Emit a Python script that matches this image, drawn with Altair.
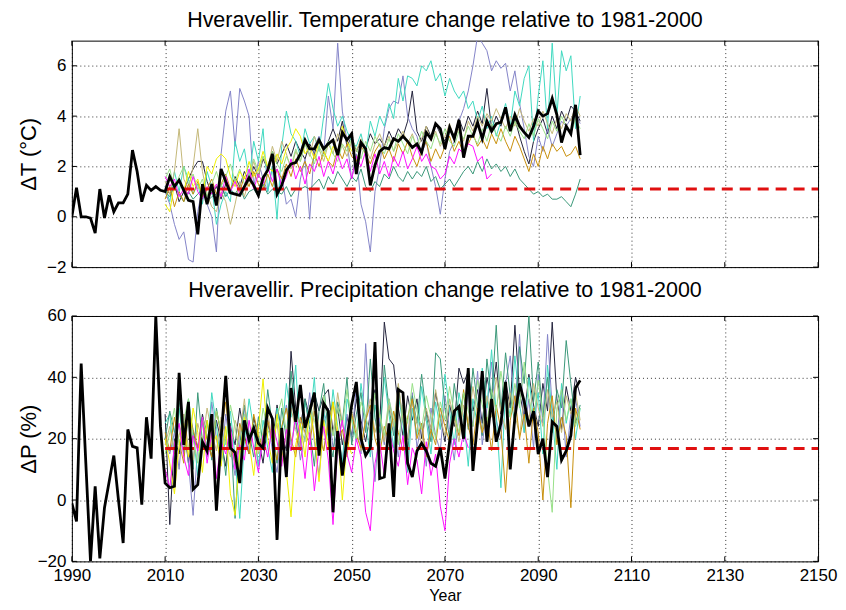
import altair as alt
import pandas as pd

FONT = "Liberation Sans"

# ---------------- data ----------------
obs_start = 1990
model_start = 2010

temp_obs = [
    0.0, 1.15, 0.0, 0.0, -0.05, -0.65, 1.1, -0.05, 0.85, 0.2,
    0.55, 0.55, 0.9, 2.65, 1.8, 0.6, 1.25, 1.05, 1.2, 1.05,
    1.0, 1.6, 1.2, 1.45, 1.05, 0.65, 0.6, -0.7, 1.3, 0.5,
    1.3, 0.45, 1.9, 1.4, 0.95, 0.9, 0.85, 1.2, 1.55, 1.25,
    0.85, 1.55, 1.85, 2.5, 0.9, 1.25, 1.85, 2.1, 2.15, 2.5,
    3.05, 2.7, 2.7, 3.05, 2.7, 2.9, 3.05, 2.45, 3.35, 3.05,
    3.3, 1.7, 2.95, 2.7, 1.25, 2.05, 2.6, 2.75, 2.7, 3.1,
    3.0, 3.2, 3.0, 2.75, 2.9, 2.55, 3.35, 3.1, 3.7, 3.5,
    2.7, 3.55, 3.1, 3.85, 2.35, 3.2, 3.2, 3.75, 3.1, 3.8,
    3.4, 3.7, 3.75, 4.35, 3.4, 4.05, 3.6, 3.35, 3.15, 3.6,
    4.2, 4.0, 4.1, 4.7, 4.05, 2.95, 3.6, 3.3, 4.45, 2.45,
]

prec_obs = [
    -1, -7, 44.5, 12, -20, 4.5, -19, -2.5, 6, 14.5,
    0, -14, 23, 17.5, 17, -1.5, 27, 13.5, 60, 24,
    5.5, 4, 4.5, 41.5, 18, 32, 3.5, 5, 19, 16,
    28, -3.5, 20, 40.5, 17, 15.5, 5.5, 26, 19.5, 23.5,
    18.5, 17, 30, 26.5, -13, 23.5, 7.5, 36.5, 25.5, 37.5,
    23.5, 29, 35, 14.5, 31.5, 29, -4, 22.5, 8, 20,
    31, 38.5, 20, 14.5, 17, 51.5, 7, 7.5, 25, 1,
    36, 35, 12, 7.5, 16, 18.5, 16, 12, 11, 17,
    7, 19, 29, 30.5, 20, 43, 9.5, 25.5, 42, 19,
    33, 19, 25, 38.5, 10, 27, 38, 32, 24, 29,
    15, 20, 7.5, 25.5, 24, 13, 16, 21, 36.5, 39,
]

series_names = ["m01", "m02", "m03", "m04", "m05", "m06", "m07", "m08", "m09"]
series_colors = ["#23233c", "#8484c8", "#3fd9c0", "#3a9878", "#c4b878",
                 "#c8900c", "#98e088", "#f0f000", "#ff10ff"]

temp_models = {
    "m01": [1.2, 0.9, 1.3, 0.6, 1.0, 1.5, 1.9, 2.2, 2.2, 1.4,
            0.9, 1.2, 0.7, 1.3, 1.0, 1.6, 1.2, 1.8, 1.4, 2.0,
            1.6, 2.3, 1.9, 2.6, 2.1, 2.5, 2.9, 2.4, 3.0, 2.6,
            2.3, 2.9, 2.5, 3.1, 2.7, 3.0, 3.5, 3.0, 3.8, 2.8,
            3.2, 2.6, 3.0, 2.7, 3.3, 2.9, 3.1, 2.8, 3.4, 3.0,
            3.5, 3.2, 3.8, 5.0, 3.4, 3.0, 3.6, 3.2, 3.7, 3.3,
            3.0, 3.6, 3.2, 3.9, 3.4, 4.0, 3.6, 4.2, 3.7, 5.1,
            3.5, 4.0, 3.6, 4.3, 3.5, 3.9, 3.2, 2.6, 2.1, 3.0,
            3.5, 3.9, 3.3, 4.0, 3.5, 4.2, 3.8, 4.4, 4.2, 3.8],
    "m02": [1.0, 0.5, -0.3, -0.9, -0.6, -1.7, -1.8, 0.2, 1.2, 0.5,
            0.0, -1.4, 2.5, 4.2, 5.0, 2.8, 5.1, 4.6, 4.0, 1.2,
            2.2, 1.5, 1.0, 2.0, 0.8, 1.6, 0.5, 0.7, 0.0, 1.5,
            2.3, -0.1, 2.8, 3.2, 2.5, 4.8, 3.5, 6.9, 4.2, 3.0,
            1.5, 2.5, 0.5, -0.2, -1.4, 1.0, 2.0, 3.5, 4.3, 4.6,
            4.5, 5.6, 4.0, 3.5, 3.2, 2.5, 3.0, 2.0, 1.2, 0.1,
            1.5, 2.6, 3.0, 3.8, 4.3, 5.0, 6.0, 7.2, 6.9, 6.6,
            5.8, 6.2, 5.9, 6.1, 5.0, 5.8, 4.5, 3.5, 2.4, 2.0,
            3.2, 2.6, 3.5, 2.8, 3.3, 3.8, 3.6, 3.9, 4.1, 3.7],
    "m03": [1.2, 0.6, 1.8, 1.0, 2.0, 1.5, 0.9, 1.3, 0.5, 1.8,
            1.2, -0.3, 0.5, 1.0, 0.6, 3.0, 2.2, 2.7, 1.5, 3.0,
            2.2, 3.5, 1.0, 2.0, -0.1, 2.8, 4.2, 3.3, 3.0, 2.4,
            3.5, 2.9, 3.2, 2.6, 4.0, 5.3, 4.3, 3.6, 4.0, 3.4,
            3.0, 2.8, 3.3, 2.5, 3.8, 3.2, 4.0, 3.6, 4.5, 3.9,
            5.5, 4.6, 5.6, 5.5, 5.2, 6.0, 5.8, 6.2, 5.4, 5.7,
            4.8, 5.5, 5.0, 4.7, 5.0, 4.3, 4.6, 3.8, 4.4, 3.5,
            4.0, 3.2, 3.8, 4.5, 3.6, 5.0, 4.4, 5.5, 6.0, 3.0,
            4.8, 6.2, 3.5, 6.9, 4.0, 6.6, 5.8, 6.4, 3.5, 4.8],
    "m04": [1.0, 0.8, 1.2, 0.9, 0.6, 1.0, 0.7, 0.9, 1.1, 0.6,
            0.8, 0.9, 1.3, 0.8, 1.1, 0.9, 1.2, 0.7, 1.0, 1.1,
            0.8, 1.3, 0.9, 1.1, 1.0, 0.9, 1.2, 0.8, 1.1, 1.1,
            1.2, 1.1, 1.3, 1.5, 1.1, 1.6, 1.3, 1.8, 1.5, 1.2,
            1.6, 1.4, 1.9, 1.2, 1.0, 1.4, 1.2, 1.7, 1.5, 2.0,
            1.6, 1.4, 1.8, 1.5, 1.8, 1.6, 2.0, 1.4, 1.6, 1.1,
            1.3, 1.5, 1.2, 1.5, 1.8, 2.0, 1.7, 2.2, 1.8, 2.3,
            1.9, 2.1, 1.8, 2.0, 1.6, 1.9, 1.5, 1.3, 1.1, 0.9,
            1.0, 0.8, 0.9, 0.7, 0.7, 0.8, 0.6, 0.4, 0.9, 1.5],
    "m05": [1.4, 0.9, 1.8, 3.5, 1.5, 1.1, 2.0, 3.5, 1.8, 0.9,
            0.4, 0.2, 1.0, 0.6, -0.3, 0.5, 1.4, 0.8, 1.5, 2.2,
            1.6, 2.4, 1.9, 2.8, 2.2, 3.0, 2.5, 1.9, 2.6, 2.2,
            2.9, 2.4, 3.2, 2.7, 2.2, 2.9, 2.5, 3.3, 2.8, 2.4,
            3.0, 2.6, 3.1, 2.7, 2.3, 2.9, 3.3, 2.8, 3.2, 2.6,
            3.0, 3.4, 2.9, 3.3, 2.7, 3.1, 3.6, 3.0, 3.4, 2.8,
            3.2, 3.7, 3.1, 3.5, 3.0, 3.8, 3.4, 4.0, 3.6, 4.1,
            3.8, 4.3, 3.9, 3.5, 4.0, 3.6, 4.3, 3.8, 3.4, 3.9,
            3.6, 4.2, 3.7, 3.3, 3.9, 3.5, 4.1, 3.8, 4.4, 4.0],
    "m06": [0.7, 1.2, 0.4, 1.0, 0.6, 1.3, 0.9, 1.4, 0.8, 1.1,
            1.5, 0.9, 1.3, 1.7, 1.1, 1.5, 1.0, 1.6, 1.2, 1.8,
            1.3, 1.1, 1.7, 1.2, 1.9, 1.5, 2.1, 1.6, 2.3, 1.8,
            2.2, 1.7, 2.5, 2.0, 2.6, 2.2, 2.0, 2.7, 2.3, 2.9,
            2.4, 2.2, 2.8, 2.5, 2.1, 2.6, 2.9, 2.3, 2.7, 2.2,
            2.9, 2.5, 3.0, 2.4, 2.0, 2.6, 3.0, 2.2, 2.7, 2.3,
            2.8, 3.2, 2.6, 3.0, 2.5, 2.9, 3.3, 2.8, 3.1, 2.7,
            3.3, 2.9, 3.5, 3.0, 2.6, 3.2, 2.8, 2.3, 1.8, 2.5,
            2.0, 2.8, 2.3, 2.9, 2.6, 2.8, 2.4, 2.5, 2.8, 2.3],
    "m07": [1.5, 1.9, 1.1, 1.6, 2.0, 1.3, 1.7, 1.1, 1.5, 0.8,
            1.3, 1.8, 1.2, 1.6, 2.1, 1.4, 1.9, 1.3, 1.7, 2.3,
            1.8, 2.4, 2.0, 2.6, 2.1, 1.8, 2.4, 2.0, 2.7, 2.2,
            2.9, 2.5, 2.1, 2.8, 2.4, 3.0, 2.5, 2.2, 2.9, 2.6,
            3.1, 2.7, 2.3, 3.0, 2.6, 3.2, 2.8, 2.5, 3.1, 2.6,
            3.3, 2.9, 2.5, 3.2, 2.8, 3.4, 3.0, 2.7, 3.3, 2.9,
            3.5, 3.0, 2.8, 3.4, 3.1, 3.6, 3.2, 2.9, 3.5, 3.0,
            3.7, 3.3, 3.0, 3.6, 3.2, 3.8, 3.4, 3.1, 3.7, 3.2,
            3.9, 3.5, 3.1, 3.8, 3.4, 4.0, 3.6, 3.3, 3.9, 3.5],
    "m08": [0.5, 0.2, 1.3, 1.5, 1.0, 1.8, 1.2, 1.5, 0.8, 2.0,
            1.7, 2.3, 2.5, 2.3, 1.6, 1.2, 1.8, 1.5, 2.2, 1.6,
            1.9, 2.6, 2.0, 1.8, 2.5, 2.1, 2.7, 3.0, 3.5, 3.2,
            2.5, 2.8, 2.3, 3.0, 2.6, 2.2, 2.8, 2.5, 3.6, 3.0,
            2.6],
    "m09": [1.6, 1.2, 1.5, 0.8, 1.1, 0.9, 1.6, 1.0, 0.7, 1.2,
            0.9, 1.3, 0.8, 1.6, 1.0, 1.4, 0.9, 1.2, 1.9, 1.1,
            1.7, 1.3, 2.0, 1.4, 1.9, 1.2, 1.6, 2.3, 1.5, 2.0,
            1.3, 2.1, 1.8, 2.4, 1.6, 2.2, 1.7, 2.5, 1.9, 2.3,
            1.5, 2.4, 2.0, 2.6, 1.8, 2.5, 1.7, 2.2, 1.6, 2.4,
            2.0, 2.6, 1.9, 2.3, 2.8, 2.2, 2.5, 2.0, 1.9, 1.5,
            1.7, 2.4, 2.1, 2.7, 2.5, 2.9, 2.8, 2.2, 2.4, 1.5,
            1.7],
}

prec_models = {
    "m01": [28, -8, 20, 15, 25, 12, 22, 17, 28, 20,
            14, 26, 19, 11, 24, 18, 30, 21, 15, 27,
            20, 12, 25, 19, 31, 22, 16, 48.5, 30, 24,
            33, 27, 35, 29, 34, 36, 22, 30, 18, 27,
            21, 33, 26, 19, 28, 36, 24, 58, 46, 44,
            30, 21, 34, 26, 33, 20, 29, 23, 35, 27,
            19, 31, 24, 43, 38, 42, 29, 36, 25, 40,
            33, 45, 28, 39, 30, 57, 35, 27, 41, 31,
            24, 38, 29, 58, 33, 23, 37, 29, 40, 34],
    "m02": [20, 15, 22, 10, 28, 12, -5, 18, 25, 14,
            32, 20, 12, 28, 17, 8, 22, 30, 15, 24,
            11, 19, 27, 16, 9, 23, 31, 18, 26, 13,
            21, 35, 19, 8, 25, 30, 17, 22, 12, 28,
            20, 37, 15, 51, 22, 6, 27, 18, 33, 24,
            14, 29, 20, 35, 17, 25, 11, 30, 21, 16,
            34, 23, 13, 28, 19, 36, 24, 42, 18, 30,
            45, 26, 20, 38, 47, 29, 54, 22, 33, 17,
            41, 25, 54, 30, 20, 36, 14, 28, 33, 24],
    "m03": [25, 28, 12, 30, 18, 33, 22, 8, 27, 16,
            35, 24, 12, 20, 29, 14, -6, 19, 33, 23,
            11, 26, 17, 9, 30, 21, 38, 27, 44, 18,
            32, 25, 40, 15, 29, 20, 36, 24, 12, 33,
            27, 19, 38, 26, 14, 31, 22, 40, 28, 17,
            34, 25, 9, 30, 21, 37, 26, 15, 32, 23,
            41, 29, 18, 35, 27, 11, 33, 24, 43, 30,
            49, 28, 4, 36, 27, 47, 31, 22, 40, 26,
            35, 15, 44, 28, 10, 38, 25, 33, 20, 30],
    "m04": [20, 29, 22, 33, 15, 27, 10, 35, 19, 26,
            13, 30, 21, 8, 25, -6, 18, 31, 22, 14,
            27, 19, 36, 24, 12, 30, 20, 42, 26, 16,
            33, 23, 11, 29, 38, 21, 14, 32, 25, 40,
            18, 28, 35, 22, 46, 27, 17, 44, 30, 21,
            37, 26, 15, 34, 25, 41, 28, 19, 48, 46,
            30, 20, 38, 27, 35, 23, 43, 31, 21, 46,
            33, 57, 29, 48, 34, 25, 50, 38, 60, 32,
            45, 27, 40, 22, 36, 30, 52, 38, 25, 31],
    "m05": [18, 24, 15, 21, 28, 17, 13, 25, 19, 30,
            22, 16, 27, 20, 14, 26, 21, 33, 18, 24,
            15, 22, 29, 19, 25, 13, 21, 30, 23, 17,
            27, 20, 32, 24, 16, 28, 21, 35, 25, 18,
            29, 23, 16, 27, 33, 22, 28, 19, 31, 24,
            38, 26, 20, 32, 25, 18, 30, 23, 36, 27,
            21, 33, 26, 19, 31, 25, 37, 28, 22, 34,
            27, 40, 29, 23, 35, 28, 21, 33, 26, 38,
            30, 24, 36, 27, 32, 22, 34, 28, 35, 26],
    "m06": [22, 16, 27, 19, 12, 30, 23, 17, 26, 20,
            14, 29, 22, 32, 18, 12, 25, 20, 15, 28,
            21, 17, 26, 19, 13, 24, 30, 20, 14, 27,
            22, 18, 29, 21, 16, 25, 32, 19, 23, 14,
            28, 21, 17, 26, 31, 20, 15, 24, 19, 29,
            22, 16, 27, 33, 20, 25, 14, 23, 18, 30,
            24, 19, 28, 21, 36, 24, 18, 30, 22, 27,
            16, 31, 23, 2.5, 26, 34, 20, 28, 12, 30,
            22, 0, 25, 34, 18, 27, 21, -2.5, 30, 23],
    "m07": [15, 22, 30, 18, 26, 33, 20, 12, 27, 21,
            16, 29, 23, 18, 31, 24, 14, 28, 20, 25,
            17, 30, 23, 19, 27, 33, 22, 16, 29, 24,
            19, 31, 26, 20, 34, 27, 21, 30, 24, 36,
            26, 20, 32, 27, 22, 35, 28, 21, 33, 26,
            18, 31, 25, 38, 29, 23, 34, 27, 20, 32,
            26, 37, 28, 22, 35, 29, 24, 39, 31, 25,
            36, 29, 42, 32, 27, 38, 30, 45, 33, 26,
            39, 28, 10, -4, 30, 36, 26, 33, 24, 30],
    "m08": [20, 12, 2, 18, 25, 14, 30, 22, 9, 26,
            17, 21, 11, 24, 2, -5, 15, 27, 19, 8,
            23, 39.5, 20, 12, 28, 16, 9, -5.5, 18, 25,
            14, 30, 21, 6, 26, 17, 32, 23, 0, 19,
            15],
    "m09": [10, 4, 18, 25, 14, 8, 21, 16, 27, 12,
            22, 7, 19, 15, 24, 10, 18, 13, 26, 17,
            9, 21, 14, 25, 19, 11, 23, 16, 28, 20,
            7, 22, 3, 17, 24, 13, -8, 18, 26, 15,
            9, 20, 14, -4, -10, 12, 19, 8, 23, 16,
            11, 21, 5, 17, 13, 2, 19, 8, 15, -2,
            -10, 12, 20, 14, 22, 17],
}

baseline_years = [2010, 2150]
temp_baseline = 1.1
prec_baseline = 16.8

x_ticks = [1990, 2010, 2030, 2050, 2070, 2090, 2110, 2130, 2150]
temp_ticks = [-2, 0, 2, 4, 6]
prec_ticks = [-20, 0, 20, 40, 60]

title_top = "Hveravellir. Temperature change relative to 1981-2000"
title_bottom = "Hveravellir. Precipitation change relative to 1981-2000"


def models_df(models):
    rows = []
    for name in series_names:
        for i, v in enumerate(models[name]):
            rows.append({"year": model_start + i, "value": v, "series": name})
    return pd.DataFrame(rows)


def obs_df(vals):
    return pd.DataFrame({"year": [obs_start + i for i in range(len(vals))], "value": vals})


def base_df(v):
    return pd.DataFrame({"year": baseline_years, "value": [v, v]})


W = 748
TICK = 5
GRID = dict(grid=True, gridColor="#000000", gridDash=[1, 3], gridOpacity=0.8, gridWidth=1)


def panel(models, obs, base, ydom, yticks, ytitle, title, height, bottom, toffset):
    xscale = alt.Scale(domain=[1990, 2150], nice=False, zero=False)
    yscale = alt.Scale(domain=ydom, nice=False, zero=False)
    if bottom:
        xaxis = alt.Axis(values=x_ticks, format="d", title="Year", labelFontSize=17,
                         titleFontSize=16, titleFontWeight="normal", labelPadding=6,
                         titlePadding=4, ticks=False, domain=False,
                         labelFlush=False, labelOverlap=False, labelColor="black",
                         titleColor="black", labelFont=FONT, titleFont=FONT, **GRID)
    else:
        xaxis = alt.Axis(values=x_ticks, labels=False, ticks=False, title=None,
                         domain=False, minExtent=0, maxExtent=0, labelPadding=0,
                         **GRID)
    yaxis = alt.Axis(values=yticks, title=ytitle, labelFontSize=17, titleFontSize=22,
                     titleFontWeight="normal", labelPadding=6, ticks=False,
                     domain=False, minExtent=30, maxExtent=30, titlePadding=1,
                     labelFlush=False, labelColor="black", titleColor="black",
                     labelFont=FONT, titleFont=FONT, **GRID)
    lines = alt.Chart(models_df(models)).mark_line(strokeWidth=1, clip=True).encode(
        x=alt.X("year:Q", scale=xscale, axis=xaxis),
        y=alt.Y("value:Q", scale=yscale, axis=yaxis),
        color=alt.Color("series:N", scale=alt.Scale(domain=series_names, range=series_colors),
                        legend=None),
    )
    red = alt.Chart(base_df(base)).mark_line(color="#e01010", strokeWidth=3,
                                             strokeDash=[11, 7]).encode(
        x="year:Q", y="value:Q")
    black = alt.Chart(obs_df(obs)).mark_line(color="black", strokeWidth=2.8, clip=True).encode(
        x="year:Q", y="value:Q")
    # inward ticks on all four sides (Matlab style box)
    xt = alt.Chart(pd.DataFrame({"year": x_ticks})).mark_rule(color="black", strokeWidth=1)
    yt = alt.Chart(pd.DataFrame({"value": yticks})).mark_rule(color="black", strokeWidth=1)
    t_top = xt.encode(x="year:Q", y=alt.value(0), y2=alt.value(TICK))
    t_bot = xt.encode(x="year:Q", y=alt.value(height - TICK), y2=alt.value(height))
    t_left = yt.encode(y="value:Q", x=alt.value(0), x2=alt.value(TICK))
    t_right = yt.encode(y="value:Q", x=alt.value(W - TICK), x2=alt.value(W))
    return alt.layer(lines, red, black, t_top, t_bot, t_left, t_right).properties(
        width=W, height=height,
        title=alt.TitleParams(title, fontSize=21.5, fontWeight="normal", font=FONT,
                              offset=toffset, color="black"),
    )


top = panel(temp_models, temp_obs, temp_baseline, [-2, 7], temp_ticks, "ΔT (°C)",
            title_top, 227, False, 9)
bot = panel(prec_models, prec_obs, prec_baseline, [-20, 60], prec_ticks, "ΔP (%)",
            title_bottom, 246, True, 6)

chart = alt.vconcat(top, bot, spacing=3).properties(
    padding={"left": 9, "top": 0, "right": 0, "bottom": 0}
).configure(
    font=FONT,
    view=alt.ViewConfig(stroke="black", strokeWidth=1),
)

chart.save("out.html", embed_options={"renderer": "svg", "actions": False})
